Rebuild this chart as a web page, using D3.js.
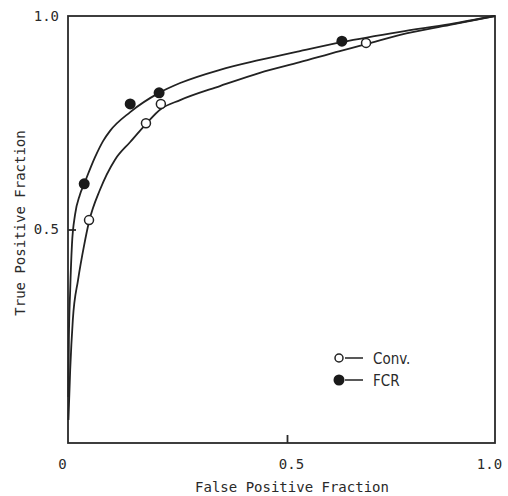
<!DOCTYPE html>
<html>
<head>
<meta charset="utf-8">
<script src="https://cdn.jsdelivr.net/npm/d3@7"></script>
<style>
  body { margin: 0; background: #fff; }
  svg text { font-family: "DejaVu Sans Mono", monospace; fill: #2a2a2a; }
</style>
</head>
<body>
<div id="roc"></div>
<script>
// values
var xTicks = [0, 0.5, 1];
var yTicks = [0.5, 1];
var tickText = {0: "0", 0.5: "0.5", 1: "1.0"};

// measured operating points
var convFpf = [0.048, 0.178, 0.212, 0.690];
var convTpf = [0.522, 0.749, 0.794, 0.937];
var fcrFpf = [0.037, 0.142, 0.208, 0.632];
var fcrTpf = [0.607, 0.794, 0.820, 0.941];

// fitted curves
var convCurveX = [0.001, 0.005, 0.011, 0.023, 0.037, 0.048, 0.073, 0.107, 0.142, 0.178, 0.212, 0.256, 0.347, 0.438, 0.531, 0.627, 0.690, 0.772, 0.892, 1];
var convCurveY = [0.054, 0.171, 0.288, 0.382, 0.464, 0.518, 0.593, 0.663, 0.705, 0.747, 0.782, 0.803, 0.836, 0.867, 0.892, 0.918, 0.934, 0.956, 0.979, 1];
var fcrCurveX = [0.001, 0.002, 0.005, 0.009, 0.016, 0.027, 0.037, 0.062, 0.080, 0.096, 0.142, 0.208, 0.256, 0.347, 0.438, 0.531, 0.632, 0.772, 0.892, 1];
var fcrCurveY = [0.108, 0.241, 0.358, 0.464, 0.534, 0.581, 0.607, 0.670, 0.707, 0.731, 0.775, 0.820, 0.843, 0.874, 0.897, 0.918, 0.939, 0.963, 0.981, 1];

var margin = {top: 16, right: 13, bottom: 53, left: 68},
    width = 508 - margin.left - margin.right,
    height = 496 - margin.top - margin.bottom;

var svg = d3.select("#roc")
  .append("svg")
    .attr("width", 508)
    .attr("height", 496)
  .append("g")
    .attr("transform", "translate(" + margin.left + "," + margin.top + ")");

// the scanned axis is a bit uneven, 0.5 sits right of centre
var x = d3.scaleLinear()
  .domain([0, 0.5, 1])
  .range([0, 219, width]);
var y = d3.scaleLinear()
  .domain([0, 1])
  .range([height, 0]);

// frame
svg.append("rect")
  .attr("width", width)
  .attr("height", height)
  .attr("fill", "none")
  .attr("stroke", "#2a2a2a")
  .attr("stroke-width", 1.8);

// X axis, inward tick at 0.5
var xAxis = svg.append("g")
  .attr("transform", "translate(0," + height + ")")
  .call(d3.axisBottom(x).tickValues(xTicks).tickSize(-8).tickPadding(16)
    .tickFormat(function(d) { return tickText[d]; }));
xAxis.select(".domain").remove();
xAxis.selectAll(".tick line")
  .attr("stroke", "#2a2a2a").attr("stroke-width", 1.8)
  .filter(function(d) { return d != 0.5; }).remove();
xAxis.selectAll(".tick text")
  .attr("font-size", 14)
  .attr("dx", function(d) { return d == 0.5 ? 4 : -6; })
  .style("font-family", "DejaVu Sans Mono").attr("fill", "#2a2a2a");

svg.append("text")
  .attr("x", 224)
  .attr("y", height + 49)
  .attr("text-anchor", "middle")
  .attr("font-size", 14)
  .text("False Positive Fraction");

// Y axis
var yAxis = svg.append("g")
  .call(d3.axisLeft(y).tickValues(yTicks).tickSize(-8).tickPadding(9)
    .tickFormat(function(d) { return tickText[d]; }));
yAxis.select(".domain").remove();
yAxis.selectAll(".tick line")
  .attr("stroke", "#2a2a2a").attr("stroke-width", 1.8)
  .filter(function(d) { return d != 0.5; }).remove();
yAxis.selectAll(".tick text")
  .attr("font-size", 14)
  .style("font-family", "DejaVu Sans Mono").attr("fill", "#2a2a2a");

svg.append("text")
  .attr("transform", "rotate(-90)")
  .attr("x", -(223 - margin.top))
  .attr("y", -43)
  .attr("text-anchor", "middle")
  .attr("font-size", 14)
  .text("True Positive Fraction");

// curves
var line = d3.line()
  .x(function(d) { return x(d[0]); })
  .y(function(d) { return y(d[1]); })
  .curve(d3.curveMonotoneX);

svg.append("path")
  .datum(d3.zip(convCurveX, convCurveY))
  .attr("fill", "none")
  .attr("stroke", "#222")
  .attr("stroke-width", 1.8)
  .attr("d", line);

svg.append("path")
  .datum(d3.zip(fcrCurveX, fcrCurveY))
  .attr("fill", "none")
  .attr("stroke", "#222")
  .attr("stroke-width", 1.8)
  .attr("d", line);

// points
svg.append("g")
  .selectAll("circle")
  .data(d3.zip(convFpf, convTpf))
  .enter()
  .append("circle")
    .attr("cx", function(d) { return x(d[0]); })
    .attr("cy", function(d) { return y(d[1]); })
    .attr("r", 4.5)
    .attr("fill", "#fff")
    .attr("stroke", "#222")
    .attr("stroke-width", 1.5);

svg.append("g")
  .selectAll("circle")
  .data(d3.zip(fcrFpf, fcrTpf))
  .enter()
  .append("circle")
    .attr("cx", function(d) { return x(d[0]); })
    .attr("cy", function(d) { return y(d[1]); })
    .attr("r", 5.5)
    .attr("fill", "#1a1a1a");

// legend
var legend = svg.append("g")
  .attr("transform", "translate(" + (339 - margin.left) + "," + (358 - margin.top) + ")");
var legendNames = ["Conv.", "FCR"];
legendNames.forEach(function(name, i) {
  var g = legend.append("g").attr("transform", "translate(0," + (i * 22) + ")");
  g.append("circle")
    .attr("r", i == 0 ? 4 : 5.5)
    .attr("fill", i == 0 ? "#fff" : "#1a1a1a")
    .attr("stroke", "#222")
    .attr("stroke-width", i == 0 ? 1.5 : 0);
  g.append("line")
    .attr("x1", 6).attr("x2", 24)
    .attr("stroke", "#222").attr("stroke-width", 1.5);
  g.append("text")
    .attr("x", 34)
    .attr("y", 6)
    .attr("font-size", 15)
    .style("font-family", "'DejaVu Sans Condensed', 'Liberation Sans Narrow', sans-serif")
    .text(name);
});
</script>
</body>
</html>
